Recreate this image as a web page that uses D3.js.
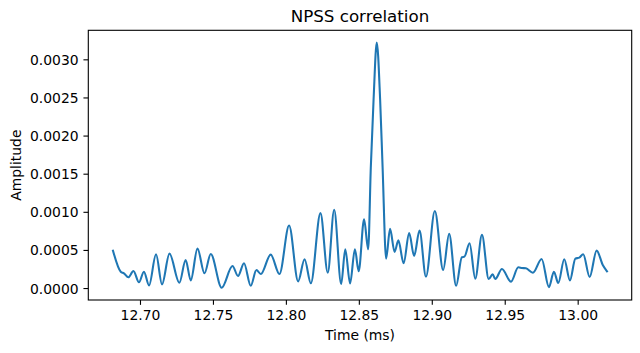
<!DOCTYPE html>
<html lang="en">
    <head>
        <meta charset="utf-8">
        <script src="https://d3js.org/d3.v7.min.js"></script>
        <style>
            body { margin: 0; background: #fff; }
            text { font-family: "DejaVu Sans", sans-serif; fill: #000; }
        </style>
    </head>
    <body>
        <script>
            // time (ms) of each point
            const timeMs = [
                12.6815, 12.6868, 12.6890, 12.6920, 12.6955, 12.6993, 12.7027, 12.7062, 12.7110, 12.7151,
                12.7202, 12.7270, 12.7313, 12.7348, 12.7394, 12.7442, 12.7485, 12.7560, 12.7634, 12.7672,
                12.7713, 12.7759, 12.7798, 12.7828, 12.7896, 12.7956, 12.8022, 12.8084, 12.8128, 12.8171,
                12.8237, 12.8287, 12.8331, 12.8379, 12.8407, 12.8440, 12.8473, 12.8499, 12.8536, 12.8564,
                12.8582, 12.8601, 12.8623, 12.8646, 12.8663, 12.8687, 12.8714, 12.8745, 12.8771, 12.8807,
                12.8845, 12.8879, 12.8916, 12.8960, 12.9021, 12.9078, 12.9119, 12.9167, 12.9206, 12.9224,
                12.9259, 12.9298, 12.9344, 12.9390, 12.9417, 12.9435, 12.9481, 12.9543, 12.9593, 12.9618,
                12.9645, 12.9693, 12.9753, 12.9803, 12.9837, 12.9867, 12.9908, 12.9947, 12.9984, 13.0011,
                13.0038, 13.0082, 13.0130, 13.0172, 13.0201
            ];
            // correlation amplitude at those times
            const amplitude = [
                0.000490, 0.000214, 0.000193, 0.000141, 0.000224, 0.000075, 0.000214, 0.000035, 0.000443, 0.000049,
                0.000451, 0.000070, 0.000368, 0.000101, 0.000517, 0.000193, 0.000447, 0.000004, 0.000289, 0.000158,
                0.000325, 0.000030, 0.000237, 0.000184, 0.000438, 0.000184, 0.000820, 0.000088, 0.000378, 0.000062,
                0.000983, 0.000201, 0.001026, 0.000053, 0.000509, 0.000059, 0.000509, 0.000220, 0.000901, 0.000509,
                0.001579, 0.002470, 0.003220, 0.002470, 0.001579, 0.000386, 0.000776, 0.000474, 0.000625, 0.000325,
                0.000720, 0.000421, 0.000754, 0.000149, 0.001010, 0.000237, 0.000711, 0.000030, 0.000404, 0.000412,
                0.000588, 0.000122, 0.000697, 0.000118, 0.000180, 0.000118, 0.000250, 0.000083, 0.000272, 0.000263,
                0.000259, 0.000201, 0.000382, 0.000012, 0.000214, 0.000066, 0.000378, 0.000101, 0.000386, 0.000399,
                0.000443, 0.000145, 0.000491, 0.000303, 0.000220
            ];
            const xTicks = [12.70, 12.75, 12.80, 12.85, 12.90, 12.95, 13.00];
            const yTicks = [0, 0.0005, 0.0010, 0.0015, 0.0020, 0.0025, 0.0030];

            const width = 640, height = 353;
            const margin = {left: 88.3, right: 8.3, top: 30.3, bottom: 53};
            const plotW = width - margin.left - margin.right;
            const plotH = height - margin.top - margin.bottom;

            const points = timeMs.map((t, i) => ({t: t, a: amplitude[i]}));

            // matplotlib-like 5% margins around the data
            function padded(ext) {
                const m = (ext[1] - ext[0]) * 0.05;
                return [ext[0] - m, ext[1] + m];
            }

            const x = d3.scaleLinear().domain(padded(d3.extent(timeMs))).range([0, plotW]);
            const y = d3.scaleLinear().domain(padded(d3.extent(amplitude))).range([plotH, 0]);

            const svg = d3.select("body").append("svg")
                .attr("width", width)
                .attr("height", height);

            const g = svg.append("g")
                .attr("transform", "translate(" + margin.left + "," + margin.top + ")");

            const tick = 4.86;

            const xAxis = g.append("g")
                .attr("transform", "translate(0," + plotH + ")")
                .call(d3.axisBottom(x).tickValues(xTicks).tickFormat(d3.format(".2f"))
                    .tickSize(tick).tickPadding(tick).tickSizeOuter(0));

            const yAxis = g.append("g")
                .call(d3.axisLeft(y).tickValues(yTicks).tickFormat(d3.format(".4f"))
                    .tickSize(tick).tickPadding(tick).tickSizeOuter(0));

            [xAxis, yAxis].forEach(function(ax){
                ax.select(".domain").remove();
                ax.selectAll("line").attr("stroke", "#000").attr("stroke-width", 1.1);
                ax.selectAll("text").attr("font-size", "13.9px").attr("font-family", "DejaVu Sans");
            });
            xAxis.selectAll("text").attr("dy", null).attr("y", tick + tick + 10.4);
            yAxis.selectAll("text").attr("dy", "0.36em");

            // data line
            const line = d3.line()
                .x(d => x(d.t))
                .y(d => y(d.a))
                .curve(d3.curveMonotoneX);

            g.append("path")
                .datum(points)
                .attr("fill", "none")
                .attr("stroke", "#1f77b4")
                .attr("stroke-width", 2.08)
                .attr("stroke-linejoin", "round")
                .attr("stroke-linecap", "square")
                .attr("d", line);

            // frame
            g.append("rect")
                .attr("width", plotW)
                .attr("height", plotH)
                .attr("fill", "none")
                .attr("stroke", "#000")
                .attr("stroke-width", 1.1);

            svg.append("text")
                .attr("x", margin.left + plotW / 2)
                .attr("y", margin.top - 8.3)
                .attr("text-anchor", "middle")
                .attr("font-size", "16.7px")
                .text("NPSS correlation");

            svg.append("text")
                .attr("x", margin.left + plotW / 2)
                .attr("y", 339.5)
                .attr("text-anchor", "middle")
                .attr("font-size", "13.9px")
                .text("Time (ms)");

            svg.append("text")
                .attr("transform", "translate(21," + (margin.top + plotH / 2) + ") rotate(-90)")
                .attr("text-anchor", "middle")
                .attr("font-size", "13.9px")
                .text("Amplitude");
        </script>
    </body>
</html>
